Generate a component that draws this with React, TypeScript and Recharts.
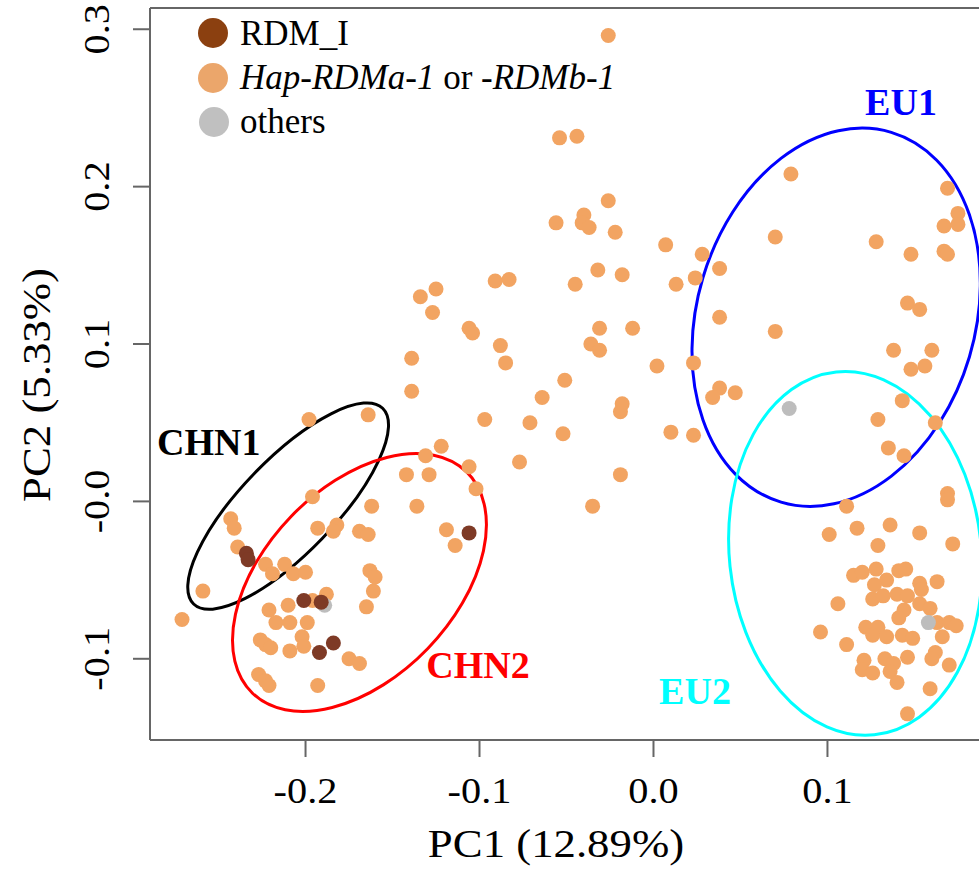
import React from "react"
import { ScatterChart, Scatter, XAxis, YAxis, ReferenceArea, ReferenceLine } from "recharts"

// PC1 / PC2 scores
const hapPoints: [number, number][] = [
  [-0.026, 0.296], [-0.054, 0.231], [-0.044, 0.232], [-0.026, 0.191], [-0.056, 0.177], [-0.040, 0.182],
  [-0.041, 0.177], [-0.037, 0.174], [-0.022, 0.171], [0.007, 0.163], [0.028, 0.157], [0.079, 0.208],
  [0.169, 0.199], [0.175, 0.183], [0.175, 0.176], [0.167, 0.175], [0.070, 0.168], [0.128, 0.165],
  [0.148, 0.157], [0.167, 0.159], [0.169, 0.157], [0.038, 0.148], [0.024, 0.142], [0.038, 0.117],
  [0.070, 0.108], [0.023, 0.088], [0.146, 0.126], [0.153, 0.122], [0.138, 0.096], [0.160, 0.096],
  [0.148, 0.084], [0.156, 0.086], [0.038, 0.072], [0.034, 0.066], [0.047, 0.069], [0.143, 0.064],
  [0.129, 0.052], [0.162, 0.050], [0.023, 0.042], [0.135, 0.034], [0.144, 0.029], [0.169, 0.005],
  [0.169, 0.001], [0.111, -0.003],
  [-0.091, 0.140], [-0.083, 0.141], [-0.045, 0.138], [-0.032, 0.147], [-0.018, 0.144], [0.013, 0.138],
  [-0.125, 0.135], [-0.134, 0.130], [-0.127, 0.120], [-0.106, 0.110], [-0.104, 0.107], [-0.088, 0.099],
  [-0.085, 0.088], [-0.031, 0.110], [-0.012, 0.110], [-0.036, 0.100], [-0.031, 0.096], [0.002, 0.086],
  [-0.051, 0.077], [-0.064, 0.066], [-0.018, 0.062], [-0.019, 0.057], [-0.097, 0.052], [-0.071, 0.050],
  [-0.052, 0.043], [0.010, 0.044], [-0.122, 0.035], [-0.131, 0.029], [-0.106, 0.022], [-0.129, 0.017],
  [-0.077, 0.025], [-0.019, 0.017], [-0.102, 0.008], [-0.035, -0.003],
  [-0.139, 0.091], [-0.139, 0.070], [-0.198, 0.052], [-0.164, 0.055], [-0.142, 0.017], [-0.196, 0.003],
  [-0.162, -0.003], [-0.136, -0.003], [-0.119, -0.018], [-0.114, -0.028],
  [-0.243, -0.011], [-0.241, -0.017], [-0.193, -0.017], [-0.182, -0.015], [-0.184, -0.019], [-0.169, -0.019],
  [-0.164, -0.021], [-0.239, -0.029], [-0.223, -0.040], [-0.219, -0.046], [-0.212, -0.040], [-0.207, -0.046],
  [-0.200, -0.045], [-0.163, -0.044], [-0.160, -0.048], [-0.259, -0.057], [-0.161, -0.057], [-0.188, -0.059],
  [-0.196, -0.063], [-0.165, -0.067], [-0.271, -0.075], [-0.221, -0.069], [-0.210, -0.066], [-0.217, -0.077],
  [-0.209, -0.077], [-0.199, -0.077], [-0.226, -0.088], [-0.223, -0.091], [-0.220, -0.093], [-0.202, -0.086],
  [-0.201, -0.092], [-0.209, -0.095], [-0.175, -0.100], [-0.169, -0.103], [-0.227, -0.110], [-0.223, -0.114],
  [-0.221, -0.117], [-0.193, -0.117],
  [0.101, -0.021], [0.117, -0.017], [0.136, -0.015], [0.153, -0.020], [0.129, -0.028], [0.172, -0.027],
  [0.115, -0.047], [0.120, -0.045], [0.128, -0.043], [0.141, -0.044], [0.145, -0.043], [0.134, -0.050],
  [0.127, -0.053], [0.153, -0.052], [0.163, -0.051], [0.126, -0.062], [0.132, -0.060], [0.140, -0.059],
  [0.146, -0.060], [0.154, -0.056], [0.106, -0.065], [0.144, -0.069], [0.153, -0.065], [0.159, -0.068],
  [0.141, -0.074], [0.163, -0.077], [0.170, -0.077], [0.174, -0.079], [0.122, -0.080], [0.129, -0.080],
  [0.096, -0.083], [0.126, -0.085], [0.134, -0.086], [0.143, -0.085], [0.149, -0.087], [0.166, -0.086],
  [0.111, -0.091], [0.146, -0.099], [0.162, -0.096], [0.160, -0.100], [0.121, -0.101], [0.133, -0.100],
  [0.138, -0.103], [0.120, -0.107], [0.126, -0.109], [0.136, -0.108], [0.170, -0.104], [0.140, -0.115],
  [0.159, -0.119], [0.146, -0.135],
]

const rdmPoints: [number, number][] = [
  [-0.234, -0.033], [-0.233, -0.037], [-0.201, -0.063], [-0.191, -0.064], [-0.184, -0.090], [-0.192, -0.096],
  [-0.106, -0.020],
]

const otherPoints: [number, number][] = [
  [0.078, 0.059], [-0.189, -0.066], [0.158, -0.077],
]

const xTicks = [-0.2, -0.1, 0, 0.1]
const xTickLabels = ["-0.2", "-0.1", "0.0", "0.1"]
const yTicks = [-0.1, 0, 0.1, 0.2, 0.3]
const yTickLabels = ["-0.1", "-0.0", "0.1", "0.2", "0.3"]

// group ellipses: centre, half-extent (data units) and tilt in degrees
const groupNames = ["CHN1", "CHN2", "EU1", "EU2"]
const groupColors = ["#000000", "#ff0000", "#0000ff", "#00ffff"]
const groupCenters: [number, number][] = [[-0.210, -0.003], [-0.169, -0.0515], [0.105, 0.117], [0.116, -0.033]]
const groupRadii: [number, number][] = [[0.0782, 0.0299], [0.0885, 0.0604], [0.0799, 0.1226], [0.0724, 0.1159]]
const groupTilt = [-46, -46, 16.6, -6]

const legendLabels = ["RDM_I", "Hap-RDMa-1 or -RDMb-1", "others"]

const X_DOMAIN: [number, number] = [-0.2894, 0.1871]
const Y_DOMAIN: [number, number] = [-0.1516, 0.3135]

const HAP = "#f2a462"
const RDM = "#7e3a26"
const OTHER = "#bdbdbd"
const SERIF = "'Liberation Serif', 'Times New Roman', serif"

const toRows = (pts: [number, number][]) => pts.map(([pc1, pc2]) => ({ pc1, pc2 }))

const dot = (color: string) => (p: any) => <circle cx={p.cx} cy={p.cy} r={7.5} fill={color} />

const XTick = ({ x, y, payload }: any) => (
  <text transform={`translate(${x},${y + 46}) scale(1.12,1)`} textAnchor="middle" fontSize={36} fontFamily={SERIF} fill="#000">
    {xTickLabels[xTicks.indexOf(payload.value)] ?? payload.value}
  </text>
)

const YTick = ({ x, y, payload }: any) => (
  <text transform={`translate(${x - 24},${y}) rotate(-90) scale(1.12,1)`} textAnchor="middle" fontSize={36} fontFamily={SERIF} fill="#000">
    {yTickLabels[yTicks.indexOf(payload.value)] ?? payload.value}
  </text>
)

const ellipseShape = (color: string, tilt: number) => (p: any) => {
  const cx = p.x + p.width / 2
  const cy = p.y + p.height / 2
  return (
    <ellipse cx={cx} cy={cy} rx={Math.abs(p.width) / 2} ry={Math.abs(p.height) / 2}
      transform={`rotate(${tilt} ${cx} ${cy})`} fill="none" stroke={color} strokeWidth={3} />
  )
}

export default function App() {
  return (
    <div style={{ position: "absolute", left: 0, top: 0, width: 979, height: 881, overflow: "hidden", background: "#fff" }}>
      <ScatterChart width={979} height={881} margin={{ top: 8, right: 0, bottom: 0, left: 0 }}>
        <XAxis type="number" dataKey="pc1" domain={X_DOMAIN} allowDataOverflow ticks={xTicks} height={141}
          tickSize={17} tickMargin={0} stroke="#666" strokeWidth={2} tick={<XTick />} />
        <YAxis type="number" dataKey="pc2" domain={Y_DOMAIN} allowDataOverflow ticks={yTicks} width={150}
          tickSize={17} tickMargin={0} stroke="#666" strokeWidth={2} tick={<YTick />} />
        <ReferenceLine y={Y_DOMAIN[1]} stroke="#666" strokeWidth={2} ifOverflow="visible" />
        <Scatter data={toRows(hapPoints)} shape={dot(HAP)} isAnimationActive={false} />
        <Scatter data={toRows(otherPoints)} shape={dot(OTHER)} isAnimationActive={false} />
        <Scatter data={toRows(rdmPoints)} shape={dot(RDM)} isAnimationActive={false} />
        {groupNames.map((g, i) => (
          <ReferenceArea key={g}
            x1={groupCenters[i][0] - groupRadii[i][0]} x2={groupCenters[i][0] + groupRadii[i][0]}
            y1={groupCenters[i][1] - groupRadii[i][1]} y2={groupCenters[i][1] + groupRadii[i][1]}
            ifOverflow="visible" shape={ellipseShape(groupColors[i], groupTilt[i])} />
        ))}
        {/* group labels */}
        <text x={157} y={455} fontSize={38} fontWeight="bold" fontFamily={SERIF} fill={groupColors[0]}>{groupNames[0]}</text>
        <text x={478} y={678} fontSize={38} fontWeight="bold" fontFamily={SERIF} fill={groupColors[1]} textAnchor="middle">{groupNames[1]}</text>
        <text x={901} y={115} fontSize={38} fontWeight="bold" fontFamily={SERIF} fill={groupColors[2]} textAnchor="middle">{groupNames[2]}</text>
        <text x={695} y={704} fontSize={38} fontWeight="bold" fontFamily={SERIF} fill={groupColors[3]} textAnchor="middle">{groupNames[3]}</text>
        {/* legend */}
        <circle cx={213} cy={33} r={15} fill="#8b4010" />
        <circle cx={213} cy={78} r={15} fill="#eba66b" />
        <circle cx={214} cy={122} r={15} fill="#c0c0c0" />
        <text x={240} y={45} fontSize={35} fontFamily={SERIF}>{legendLabels[0]}</text>
        <text x={240} y={89} fontSize={35} fontFamily={SERIF}>
          <tspan fontStyle="italic">Hap-RDMa-1</tspan>
          <tspan> or </tspan>
          <tspan fontStyle="italic">-RDMb-1</tspan>
        </text>
        <text x={240} y={133} fontSize={35} fontFamily={SERIF}>{legendLabels[2]}</text>
        {/* axis titles */}
        <text transform="translate(556,857) scale(1.12,1)" textAnchor="middle" fontSize={40} fontFamily={SERIF}>PC1 (12.89%)</text>
        <text transform="translate(50,385) rotate(-90) scale(1.12,1)" textAnchor="middle" fontSize={40} fontFamily={SERIF}>PC2 (5.33%)</text>
      </ScatterChart>
    </div>
  )
}
